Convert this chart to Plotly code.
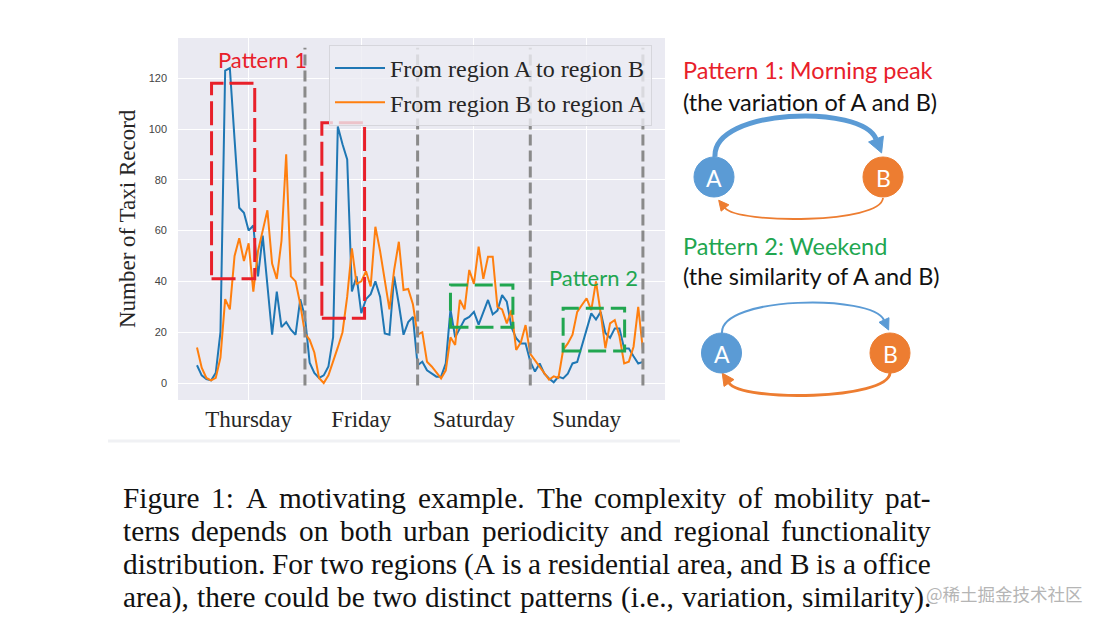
import plotly.graph_objects as go

# ---------------- data ----------------
hours = list(range(1, 97))
days = ["Thursday", "Friday", "Saturday", "Sunday"]
day_centers = [12, 36, 60, 84]
day_dividers = [24, 48, 72, 96]
y_ticks = [0, 20, 40, 60, 80, 100, 120]

a_to_b_thu = [7, 3, 1.5, 1, 4, 20, 123, 124, 96, 69, 67, 60, 62, 42, 58, 38, 19, 36, 22, 24, 21, 19, 33, 26]
a_to_b_fri = [8, 4, 2, 3, 6.5, 18, 101, 94, 88, 36, 42, 27.5, 33, 35, 40, 34, 19.5, 19, 42, 31, 19, 24, 26, 7]
a_to_b_sat = [8.4, 5, 3.7, 2.5, 2.5, 7.7, 29, 18, 21.5, 25, 26, 28, 23, 28, 32.7, 27, 28.5, 34.6, 32, 22, 17.6, 15.6, 15.6, 8.5]
a_to_b_sun = [4.5, 7.7, 3.7, 1.8, 0.3, 2.5, 1.8, 3.7, 7.7, 8.3, 15, 21.5, 27.4, 25, 28, 19.7, 17.8, 21.5, 21.5, 13.6, 13.6, 10.5, 7.7, 8.3]

b_to_a_thu = [14, 6, 2, 1, 2, 10, 33, 29, 50, 57, 48, 55, 36, 52, 60, 68, 47, 41, 56, 90, 42, 40, 31, 19.5]
b_to_a_fri = [17, 12, 2, 0, 3, 9, 14, 20, 34, 53, 39, 40, 44, 38, 61.5, 52, 40, 29, 44.5, 55.6, 36.6, 37, 31, 19]
b_to_a_sat = [20, 8.4, 6.5, 4, 1.8, 5, 18, 15, 32.7, 29, 44.5, 39, 53.7, 41, 49.7, 49.7, 30, 29, 23.5, 28.7, 13, 16, 22.8, 11.5]
b_to_a_sun = [9, 6.5, 3.9, 1.3, 2.6, 2, 13, 15.6, 19, 28, 30.7, 33.3, 28.7, 40, 27.5, 13.7, 23.5, 24.8, 18.4, 7.7, 8.4, 14.3, 30, 13]

a_to_b = a_to_b_thu + a_to_b_fri + a_to_b_sat + a_to_b_sun
b_to_a = b_to_a_thu + b_to_a_fri + b_to_a_sat + b_to_a_sun

caption_lines = [
    "Figure 1:  A motivating example.  The complexity of mobility pat-",
    "terns depends on both urban periodicity and regional functionality",
    "distribution. For two regions (A is a residential area, and B is a office",
    "area), there could be two distinct patterns (i.e., variation, similarity).",
]

# ---------------- layout helpers ----------------
W, H = 1104, 622
def px(x):
    return x / W
def py(y):
    return 1 - y / H

PLOT_L, PLOT_R, PLOT_T, PLOT_B = 178, 665, 38, 400
BLUE, ORANGE = "#1f77b4", "#ff7f0e"
RED, GREEN = "#e8202a", "#21a650"
CBLUE, CORANGE = "#5b9bd5", "#ed7d31"
SERIF = "Liberation Serif"
SANS = "Lato"

def label(text, x, y, size, color, family=SANS, xanchor="center", yanchor="middle", **kw):
    d = dict(text=text, x=px(x), y=py(y), xref="paper", yref="paper", xanchor=xanchor,
             yanchor=yanchor, showarrow=False, font=dict(family=family, size=size, color=color))
    d.update(kw)
    return d

fig = go.Figure()
fig.add_trace(go.Scatter(x=hours, y=a_to_b, mode="lines", name="From region A to region B",
                         line=dict(color=BLUE, width=2)))
fig.add_trace(go.Scatter(x=hours, y=b_to_a, mode="lines", name="From region B to region A",
                         line=dict(color=ORANGE, width=2)))

shapes = []
annotations = []

# day dividers
for d in day_dividers:
    shapes.append(dict(type="line", xref="x", yref="y", x0=d, x1=d, y0=-1, y1=132,
                       line=dict(color="#8a8a8a", width=3, dash="11px,5px"), layer="above"))

# pattern rectangles
for (x0, x1, y0, y1) in [(4.1, 13.3, 41, 118), (27.6, 36.7, 25.5, 102.5)]:
    shapes.append(dict(type="rect", xref="x", yref="y", x0=x0, x1=x1, y0=y0, y1=y1,
                       line=dict(color=RED, width=3, dash="24px,6px"), layer="above"))
for (x0, x1, y0, y1) in [(55, 68.3, 21.9, 38.6), (79, 92.1, 12.6, 29.4)]:
    shapes.append(dict(type="rect", xref="x", yref="y", x0=x0, x1=x1, y0=y0, y1=y1,
                       line=dict(color=GREEN, width=3, dash="18px,7px"), layer="above"))

annotations.append(label("Pattern 1", 262, 59, 22, RED))
annotations.append(label("Pattern 2", 594, 277, 22, GREEN))

# y-axis title
annotations.append(label("Number of Taxi Record", 128, 219, 23, "#262626", family=SERIF, textangle=-90))

# faint frame line under the chart image
shapes.append(dict(type="line", xref="paper", yref="paper", x0=px(108), x1=px(680), y0=py(441), y1=py(441),
                   line=dict(color="#f0f1f4", width=3)))

# ---------------- right diagram ----------------
def path_from(points):
    (x0, y0), (c1x, c1y), (c2x, c2y), (x1, y1) = points
    return "M {} {} C {} {}, {} {}, {} {}".format(px(x0), py(y0), px(c1x), py(c1y),
                                                   px(c2x), py(c2y), px(x1), py(y1))

def arrowhead(base, ctrl, length, half):
    bx, by = base
    dx, dy = bx - ctrl[0], by - ctrl[1]
    n = (dx * dx + dy * dy) ** 0.5
    dx, dy = dx / n, dy / n
    tx, ty = bx + dx * length, by + dy * length
    lx, ly = bx - dy * half, by + dx * half
    rx, ry = bx + dy * half, by - dx * half
    return "M {} {} L {} {} L {} {} Z".format(px(tx), py(ty), px(lx), py(ly), px(rx), py(ry))

def arc(points, color, width, ah_len, ah_half):
    shapes.append(dict(type="path", xref="paper", yref="paper", path=path_from(points),
                       line=dict(color=color, width=width)))
    shapes.append(dict(type="path", xref="paper", yref="paper",
                       path=arrowhead(points[3], points[2], ah_len, ah_half),
                       fillcolor=color, line=dict(color=color, width=1)))

def node(cx, cy, r, color, text):
    shapes.append(dict(type="circle", xref="paper", yref="paper",
                       x0=px(cx - r), x1=px(cx + r), y0=py(cy + r), y1=py(cy - r),
                       fillcolor=color, line=dict(color=color, width=1)))
    annotations.append(label(text, cx, cy + 1, 23, "white"))

# pattern 1
arc([(715, 157), (712, 108), (862, 104), (876, 139)], CBLUE, 5, 15, 8)
arc([(883, 198), (881, 224), (738, 224), (725, 208)], CORANGE, 1.8, 10, 5)
node(714, 177, 20, CBLUE, "A")
node(883, 177, 20, CORANGE, "B")
# pattern 2
arc([(722, 333), (720, 296), (872, 294), (884, 320)], CBLUE, 2, 11, 5.5)
arc([(890, 373), (888, 400), (742, 402), (729, 383)], CORANGE, 3, 12, 6)
node(721.5, 353, 20, CBLUE, "A")
node(890, 353, 20, CORANGE, "B")

for text, y, color in [("Pattern 1: Morning peak", 70, RED),
                       ("(the variation of A and B)", 102, "#111111"),
                       ("Pattern 2: Weekend", 246, GREEN),
                       ("(the similarity of A and B)", 276, "#111111")]:
    annotations.append(label(text, 681, y, 23.5, color, xanchor="left"))

# ---------------- caption (justified word by word) ----------------
TW = {' ': 250, '!': 333, '(': 333, ')': 333, ',': 250, '-': 333, '.': 250, ':': 278, '1': 500,
      'A': 722, 'B': 667, 'F': 556, 'T': 611,
      'a': 444, 'b': 500, 'c': 444, 'd': 500, 'e': 444, 'f': 333, 'g': 500, 'h': 500, 'i': 278,
      'j': 278, 'k': 500, 'l': 278, 'm': 778, 'n': 500, 'o': 500, 'p': 500, 'q': 500, 'r': 333,
      's': 389, 't': 278, 'u': 500, 'v': 500, 'w': 722, 'x': 500, 'y': 500, 'z': 444}
CAP_FS = 29.3
CAP_L, CAP_R = 122, 930
cap_centers = [498, 531, 564, 597]
def tw(s):
    return sum(TW.get(c, 500) for c in s) * CAP_FS / 1000.0
for line, yc in zip(caption_lines, cap_centers):
    words = line.split()
    total = sum(tw(w) for w in words)
    gap = (CAP_R - CAP_L - total) / (len(words) - 1)
    xpos = CAP_L
    for w in words:
        annotations.append(label(w, xpos - 1, yc, CAP_FS, "#111111", family=SERIF, xanchor="left"))
        xpos += tw(w) + gap

annotations.append(label("@稀土掘金技术社区", 924, 593, 17.5, "#b5b5b5",
                         family="Noto Sans CJK SC", xanchor="left"))

# ---------------- layout ----------------
x_range = [(PLOT_L - 192.3) / 4.694, (PLOT_R - 192.3) / 4.694]
y_range = [(383 - PLOT_B) / 2.54, (383 - PLOT_T) / 2.54]

fig.update_layout(
    width=W, height=H,
    margin=dict(l=0, r=0, t=0, b=0),
    paper_bgcolor="white",
    plot_bgcolor="#eaeaf2",
    shapes=shapes,
    annotations=annotations,
    showlegend=True,
    legend=dict(x=px(652), y=py(45), xanchor="right", yanchor="top",
                bgcolor="rgba(236,236,243,0.8)", bordercolor="#d6d6dc", borderwidth=1,
                font=dict(family=SERIF, size=24, color="#262626"), itemwidth=50),
    xaxis=dict(domain=[px(PLOT_L), px(PLOT_R)], range=x_range, tickmode="array",
               tickvals=day_centers, ticktext=days, showgrid=True, gridcolor="white", gridwidth=1,
               zeroline=False, showline=False, ticks="", ticklabelstandoff=3,
               tickfont=dict(family=SERIF, size=23, color="#262626")),
    yaxis=dict(domain=[py(PLOT_B), py(PLOT_T)], range=y_range, tickmode="array",
               tickvals=y_ticks, showgrid=True, gridcolor="white", gridwidth=1,
               zeroline=False, showline=False, ticks="", ticklabelstandoff=10,
               tickfont=dict(family="Liberation Sans", size=11, color="#444444")),
)

fig.write_html("out.html", config={"displayModeBar": False},
               post_script="document.body.style.margin='0';")
